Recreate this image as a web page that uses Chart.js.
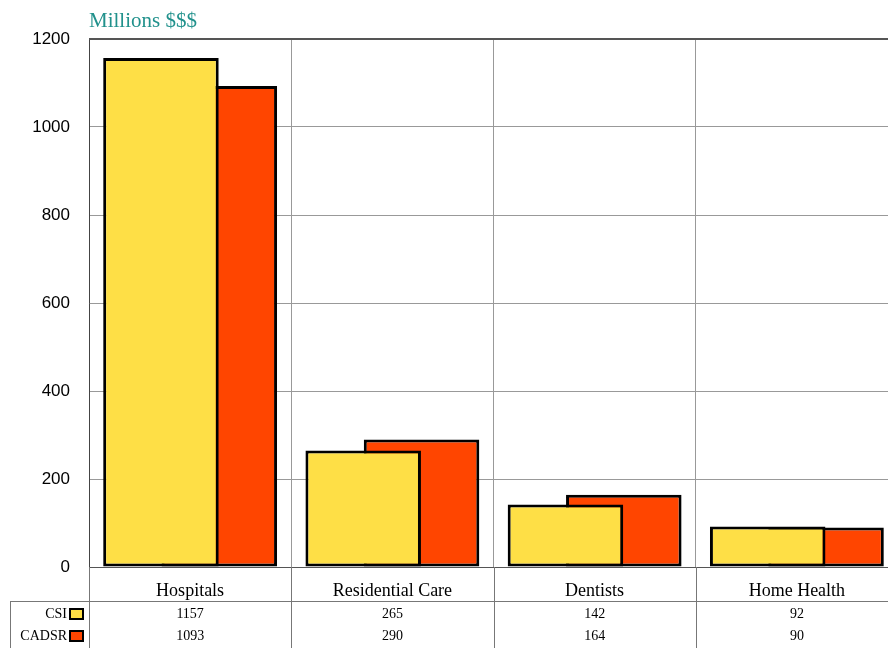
<!DOCTYPE html>
<html>
<head>
<meta charset="utf-8">
<script src="https://cdn.jsdelivr.net/npm/chart.js@4"></script>
<style>
  html, body { margin: 0; padding: 0; background: #fff; overflow: hidden; }
  #wrap { width: 898px; height: 648px; }
</style>
</head>
<body>
<div id="wrap"><canvas id="myChart" width="898" height="648"></canvas></div>
<script>
// Data
const categories = ["Hospitals", "Residential Care", "Dentists", "Home Health"];
const seriesNames = ["CSI", "CADSR"];
const csiValues = [1157, 265, 142, 92];
const cadsrValues = [1093, 290, 164, 90];
const seriesColors = ["#FEDF46", "#FF4500"];

// Title + data table under the axis
const tablePlugin = {
  id: "tablePlugin",
  afterDraw(chart) {
    const ctx = chart.ctx;
    const area = chart.chartArea;
    const xs = chart.scales.x;
    const rows = [csiValues, cadsrValues];
    ctx.save();

    // title
    ctx.fillStyle = "#21918C";
    ctx.font = "21px 'Liberation Serif'";
    ctx.textAlign = "left";
    ctx.textBaseline = "alphabetic";
    ctx.fillText("Millions $$$", area.left, 27);

    // top border of plot
    ctx.strokeStyle = "#555";
    ctx.lineWidth = 2;
    ctx.beginPath();
    ctx.moveTo(area.left, area.top);
    ctx.lineTo(chart.width, area.top);
    ctx.stroke();

    // table lines
    ctx.strokeStyle = "#777";
    ctx.lineWidth = 1;
    ctx.beginPath();
    ctx.moveTo(10, 601.5);
    ctx.lineTo(chart.width, 601.5);
    ctx.moveTo(10.5, 601);
    ctx.lineTo(10.5, chart.height);
    for (let i = 0; i <= categories.length; i++) {
      const x = Math.round(xs.getPixelForValue(i - 0.5)) + 0.5;
      ctx.moveTo(x, area.bottom);
      ctx.lineTo(x, chart.height);
    }
    ctx.stroke();

    // rows
    const rowY = [614, 636];
    ctx.font = "14px 'Liberation Serif'";
    ctx.textBaseline = "middle";
    rows.forEach((vals, r) => {
      ctx.fillStyle = "#000";
      ctx.textAlign = "right";
      ctx.fillText(seriesNames[r], 67, rowY[r]);
      ctx.fillStyle = seriesColors[r];
      ctx.fillRect(70, rowY[r] - 5, 13, 10);
      ctx.strokeStyle = "#000";
      ctx.lineWidth = 2;
      ctx.strokeRect(70, rowY[r] - 5, 13, 10);
      ctx.fillStyle = "#000";
      ctx.textAlign = "center";
      vals.forEach((v, i) => {
        ctx.fillText(String(v), xs.getPixelForValue(i), rowY[r]);
      });
    });
    ctx.restore();
  }
};

const data = {
  labels: categories,
  datasets: [
    {
      label: seriesNames[0],
      data: csiValues,
      backgroundColor: seriesColors[0],
      borderColor: "#000",
      borderWidth: 3,
      borderSkipped: false,
      categoryPercentage: 0.577,
      barPercentage: 1.98,
    },
    {
      label: seriesNames[1],
      data: cadsrValues,
      backgroundColor: seriesColors[1],
      borderColor: "#000",
      borderWidth: 3,
      borderSkipped: false,
      categoryPercentage: 0.577,
      barPercentage: 1.98,
    },
  ],
};

const config = {
  type: "bar",
  data: data,
  options: {
    responsive: false,
    animation: false,
    layout: { padding: { top: 39, right: 0, left: 0, bottom: 0 } },
    plugins: {
      legend: { display: false },
      tooltip: { enabled: false },
    },
    scales: {
      x: {
        afterFit(s) { s.height = 81; },
        grid: { color: "#999", drawTicks: false, offset: true },
        border: { color: "#555" },
        ticks: {
          color: "#000",
          font: { family: "'Liberation Serif'", size: 18 },
          padding: 13,
        },
      },
      y: {
        min: 0,
        max: 1200,
        afterFit(s) { s.width = 89; },
        grid: { color: "#999", drawTicks: false },
        border: { color: "#444" },
        ticks: {
          stepSize: 200,
          color: "#000",
          font: { family: "'Liberation Sans'", size: 17 },
          padding: 19,
          callback: (v) => String(v),
        },
      },
    },
  },
  plugins: [tablePlugin],
};

const myChart = new Chart(document.getElementById("myChart"), config);
</script>
</body>
</html>
